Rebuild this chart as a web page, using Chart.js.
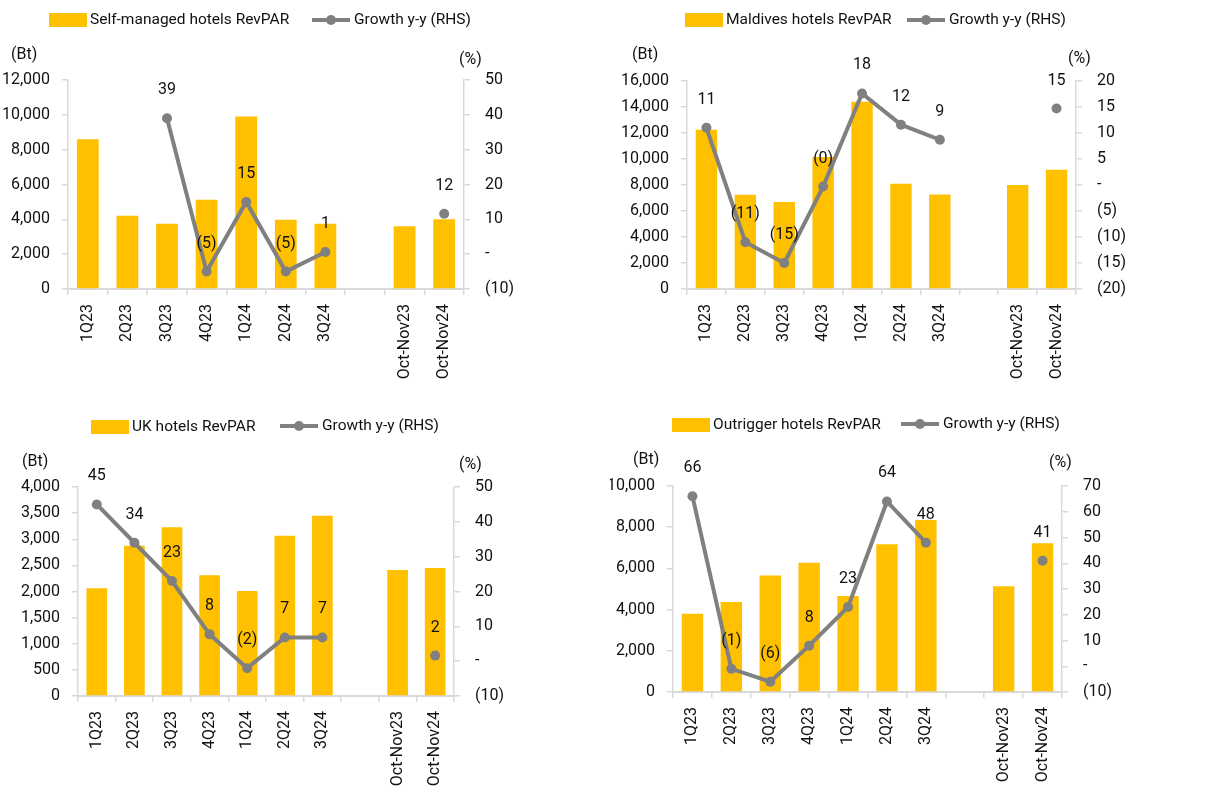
<!DOCTYPE html>
<html>
<head>
<meta charset="utf-8">
<script src="https://cdn.jsdelivr.net/npm/chart.js@4.4.1/dist/chart.umd.min.js"></script>
<style>
  body { margin: 0; background: #fff; }
  canvas { position: absolute; }
</style>
</head>
<body>
<canvas id="c1" width="610" height="400" style="left:0;top:0"></canvas>
<canvas id="c2" width="616" height="400" style="left:610px;top:0"></canvas>
<canvas id="c3" width="610" height="394" style="left:0;top:400px"></canvas>
<canvas id="c4" width="616" height="394" style="left:610px;top:400px"></canvas>
<script>
var categories = ['1Q23', '2Q23', '3Q23', '4Q23', '1Q24', '2Q24', '3Q24', '', 'Oct-Nov23', 'Oct-Nov24'];

// RevPAR (Bt) and y-y growth (%)
var selfRevpar = [8600, 4200, 3750, 5120, 9900, 3980, 3750, null, 3600, 4010];
var selfGrowth = [null, null, 39, -5, 15, -5, 0.6, null, null, 11.6];
var maldivesRevpar = [12250, 7250, 6700, 10150, 14400, 8100, 7270, null, 8000, 9170];
var maldivesGrowth = [11, -11, -15, -0.3, 17.6, 11.6, 8.7, null, null, 14.7];
var ukRevpar = [2060, 2875, 3230, 2310, 2010, 3065, 3450, null, 2410, 2450];
var ukGrowth = [45, 34, 23, 7.7, -2, 6.8, 6.8, null, null, 1.6];
var outriggerRevpar = [3800, 4370, 5650, 6280, 4660, 7170, 8350, null, 5130, 7220];
var outriggerGrowth = [66, -1, -6, 8, 23, 64, 48, null, null, 41];

// axis ranges [min, max, step]
var selfLeftTicks = [0, 12000, 2000];
var selfRightTicks = [-10, 50, 10];
var maldivesLeftTicks = [0, 16000, 2000];
var maldivesRightTicks = [-20, 20, 5];
var ukLeftTicks = [0, 4000, 500];
var ukRightTicks = [-10, 50, 10];
var outriggerLeftTicks = [0, 10000, 2000];
var outriggerRightTicks = [-10, 70, 10];

var FONT = 'Roboto, "Noto Sans", sans-serif';
var INK = '#111';
var GOLD = '#FFC000';
var GREY = '#808080';
var RULE = '#d9d9d9';

function fmtPct(v) {
  var r = Math.round(v);
  if (v < 0) return '(' + Math.abs(r) + ')';
  if (r === 0) return '-';
  return String(r);
}
function fmtBt(v) {
  return v.toLocaleString('en-US');
}

// legend, unit labels and point labels
var decor = {
  id: 'decor',
  afterDatasetsDraw: function (chart) {
    var o = chart.options.plugins.decor;
    var ctx = chart.ctx;
    var ds = chart.data.datasets;
    ctx.save();
    ctx.textBaseline = 'middle';
    ctx.textAlign = 'left';
    ctx.font = '15.5px ' + FONT;

    ctx.fillStyle = GOLD;
    ctx.fillRect(o.barKey[0], o.barKey[1] - 7, 38, 14);
    ctx.fillStyle = INK;
    ctx.fillText(ds[0].label, o.barKey[0] + 41, o.barKey[1]);

    ctx.strokeStyle = GREY;
    ctx.lineWidth = 4;
    ctx.beginPath();
    ctx.moveTo(o.lineKey[0], o.lineKey[1]);
    ctx.lineTo(o.lineKey[0] + 38, o.lineKey[1]);
    ctx.stroke();
    ctx.fillStyle = GREY;
    ctx.beginPath();
    ctx.arc(o.lineKey[0] + 19, o.lineKey[1], 5, 0, Math.PI * 2);
    ctx.fill();
    ctx.fillStyle = INK;
    ctx.fillText(ds[1].label, o.lineKey[0] + 42, o.lineKey[1]);

    ctx.font = '16px ' + FONT;
    ctx.fillText('(Bt)', o.bt[0], o.bt[1]);
    ctx.fillText('(%)', o.pct[0], o.pct[1]);

    ctx.textAlign = 'center';
    chart.getDatasetMeta(1).data.forEach(function (pt, i) {
      var v = ds[1].data[i];
      if (v === null || v === undefined) return;
      ctx.fillText(fmtPct(v), pt.x, pt.y - 28);
    });
    ctx.restore();
  }
};

function makeChart(id, barName, bars, growth, lt, rt, box) {
  var tickFont = { family: FONT, size: 16 };
  new Chart(document.getElementById(id), {
    type: 'bar',
    data: {
      labels: categories,
      datasets: [{
        type: 'bar',
        label: barName,
        data: bars,
        backgroundColor: GOLD,
        barPercentage: 0.55,
        categoryPercentage: 1,
        yAxisID: 'y',
        order: 2
      }, {
        type: 'line',
        label: 'Growth y-y (RHS)',
        data: growth,
        borderColor: GREY,
        backgroundColor: GREY,
        borderWidth: 4,
        pointRadius: 5,
        pointBorderWidth: 0,
        spanGaps: false,
        yAxisID: 'y1',
        order: 1
      }]
    },
    options: {
      responsive: false,
      animation: false,
      layout: { padding: { top: box.top, left: 0, right: 0, bottom: 0 } },
      plugins: {
        legend: { display: false },
        tooltip: { enabled: false },
        decor: box
      },
      scales: {
        x: {
          ticks: { minRotation: 90, maxRotation: 90, autoSkip: false, padding: 9, color: INK, font: tickFont },
          grid: { offset: true, drawOnChartArea: false, tickLength: 6, color: RULE, lineWidth: 1.5 },
          border: { color: RULE, width: 2 },
          afterFit: function (s) { s.height = box.xH; }
        },
        y: {
          position: 'left',
          min: lt[0], max: lt[1],
          ticks: { stepSize: lt[2], callback: fmtBt, padding: 12, color: INK, font: tickFont },
          grid: { drawOnChartArea: false, tickLength: 6, color: RULE, lineWidth: 1.5 },
          border: { color: RULE, width: 1.5 },
          afterFit: function (s) { s.width = box.leftW; }
        },
        y1: {
          position: 'right',
          min: rt[0], max: rt[1],
          ticks: { stepSize: rt[2], callback: fmtPct, padding: 15, color: INK, font: tickFont },
          grid: { drawOnChartArea: false, tickLength: 6, color: RULE, lineWidth: 1.5 },
          border: { color: RULE, width: 1.5 },
          afterFit: function (s) { s.width = box.rightW; }
        }
      }
    },
    plugins: [decor]
  });
}

makeChart('c1', 'Self-managed hotels RevPAR', selfRevpar, selfGrowth, selfLeftTicks, selfRightTicks,
  { top: 80, xH: 111, leftW: 68, rightW: 146, barKey: [49, 20], lineKey: [312, 20], bt: [11, 55], pct: [459, 60] });
makeChart('c2', 'Maldives hotels RevPAR', maldivesRevpar, maldivesGrowth, maldivesLeftTicks, maldivesRightTicks,
  { top: 81, xH: 111, leftW: 77, rightW: 150, barKey: [75, 20], lineKey: [297, 20], bt: [22, 55], pct: [458, 59] });
makeChart('c3', 'UK hotels RevPAR', ukRevpar, ukGrowth, ukLeftTicks, ukRightTicks,
  { top: 87, xH: 98, leftW: 78, rightW: 156, barKey: [91, 27], lineKey: [280, 26], bt: [22, 62], pct: [459, 65] });
makeChart('c4', 'Outrigger hotels RevPAR', outriggerRevpar, outriggerGrowth, outriggerLeftTicks, outriggerRightTicks,
  { top: 86, xH: 102, leftW: 63, rightW: 164, barKey: [62, 25], lineKey: [291, 24], bt: [23, 60], pct: [439, 63] });
</script>
</body>
</html>
